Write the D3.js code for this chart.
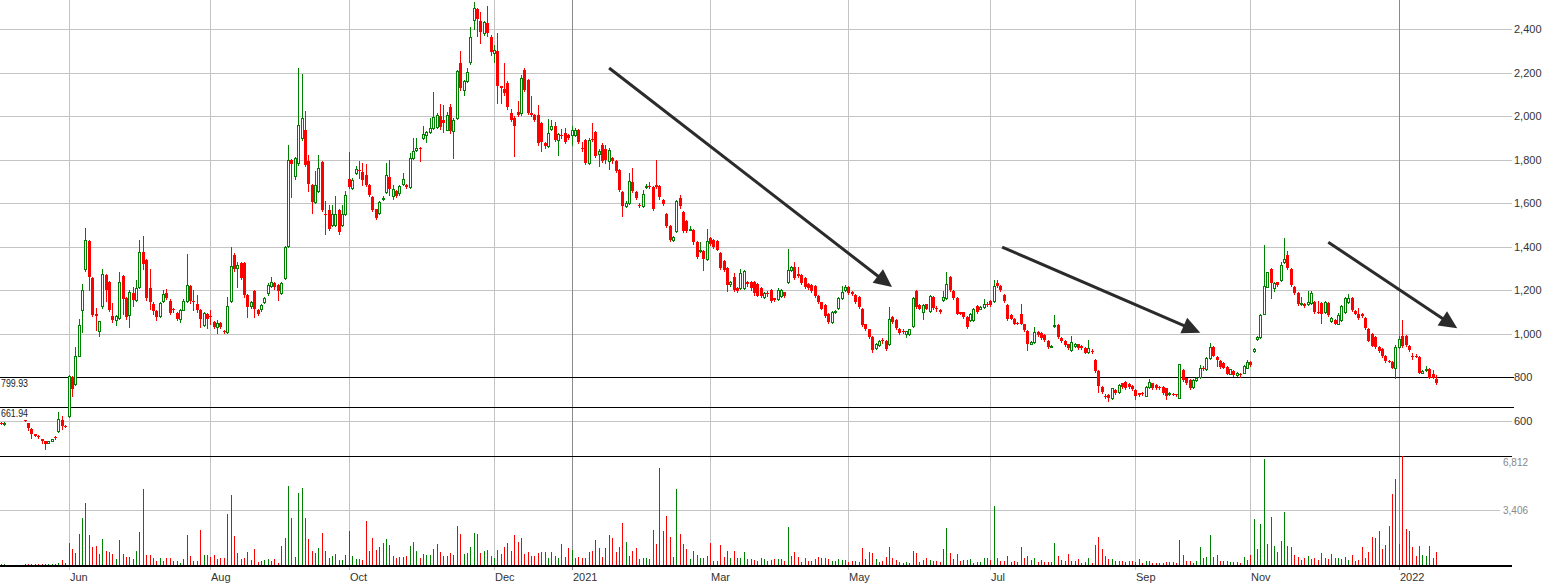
<!DOCTYPE html>
<html><head><meta charset="utf-8">
<script src="https://cdn.jsdelivr.net/npm/d3@7"></script>
<style>
html,body{margin:0;padding:0;background:#fff;overflow:hidden}
svg{display:block}
text{font-family:"Liberation Sans",Arial,sans-serif}
</style></head><body>
<svg id="chart" width="1545" height="583"></svg>
<script>
// ---- data (one entry per trading session, null = no trade) ----
const opens = [
590,585,null,null,null,null,null,602,588,562,
538,530,515,505,500,508,526,555,605,575,
620,803,770,900,1108,1300,1427,1257,1090,1013,
1126,1270,1239,1080,1064,1074,1265,1165,1085,1188,
1157,1216,1377,1339,1211,1139,1105,1080,1151,1188,
1151,1113,1096,1070,1111,1151,1219,1150,1139,1108,
1039,1091,1082,1054,1031,1049,1013,1008,1151,1362,
1301,1324,1327,1178,1128,1197,1109,1112,1148,1186,
1219,1235,1224,1189,1255,1404,1797,1725,1786,1900,
1939,1796,1686,1605,1656,1790,1550,1567,1500,1500,
1567,1500,1549,1714,1671,1740,1755,1745,1728,1686,
1628,1572,1557,1622,1651,1722,1633,1656,1648,1690,
1686,1676,1809,1844,1855,1900,1916,1930,1946,1949,
2000,1984,1939,2045,1931,1992,2247,2122,2163,2249,
2443,2492,2440,2382,2428,2366,2293,2300,2138,2126,
2154,2016,1992,2019,2013,2215,2165,2013,2005,2008,
1967,1877,1862,1942,1954,1893,1916,1924,1916,1916,
1916,1935,1852,1890,1786,1896,1927,1827,1870,1851,
1793,1808,1793,1752,1650,1589,1601,1697,1652,1594,
1589,1677,1681,1675,1686,1678,1614,1551,1494,1432,
1471,1624,1560,1517,1478,1478,1420,1380,1379,1345,
1440,1432,1425,1372,1333,1302,1228,1259,1209,1209,
1209,1236,1237,1240,1228,1209,1171,1186,1202,1163,
1160,1175,1190,1237,1295,1305,1274,1271,1256,1228,
1225,1220,1175,1144,1132,1093,1054,1098,1119,1166,
1202,1214,1194,1178,1171,1116,1043,1020,985,933,
949,971,969,954,1078,1062,1023,1013,1000,1000,
1036,1197,1132,1101,1135,1104,1171,1118,1109,1155,
1166,1263,1197,1163,1098,1098,1078,1062,1062,1128,
1116,1124,1136,1150,1150,1235,1220,1177,1131,1085,
1070,1049,1093,1043,1012,955,962,1009,1005,994,
966,943,1035,1040,981,966,951,925,945,951,
945,936,917,922,879,829,757,716,719,706,
742,734,772,777,768,761,742,726,728,716,
757,772,765,754,757,749,724,724,721,707,
833,795,787,757,787,800,845,837,888,941,
895,876,868,848,817,830,811,816,822,845,
871,919,974,985,1093,1217,1297,1209,1236,1248,
1329,1364,1298,1217,1186,1136,1136,1136,1143,1147,
1102,1143,1100,1143,1059,1065,1047,1062,1100,1147,
1163,1105,1090,1093,1074,1023,1000,985,938,930,
899,876,871,845,938,992,992,946,898,900,
895,822,833,837,817,791];
const highs = [
594,594,null,null,null,null,null,604,592,565,
540,536,518,508,508,518,532,640,622,580,
812,808,940,1070,1228,1485,1432,1262,1120,1060,
1296,1277,1244,1140,1085,1285,1272,1170,1200,1215,
1246,1430,1451,1345,1300,1145,1110,1148,1200,1205,
1158,1120,1100,1115,1160,1366,1225,1202,1178,1112,
1100,1095,1110,1058,1062,1052,1016,1170,1397,1370,
1330,1330,1332,1182,1152,1202,1114,1135,1168,1232,
1262,1240,1228,1236,1405,1870,1805,1815,2221,2195,
2023,1824,1690,1748,1821,1795,1610,1590,1590,1633,
1572,1590,1656,1835,1715,1772,1793,1786,1782,1690,
1632,1576,1612,1635,1786,1797,1683,1660,1683,1740,
1690,1829,1899,1899,1858,1955,1932,1990,2110,2015,
2058,2050,2020,2058,1990,2215,2302,2168,2223,2412,
2527,2498,2481,2440,2507,2372,2330,2385,2140,2246,
2160,2032,2000,2069,2190,2220,2170,2093,2010,2054,
1972,1880,1988,1985,1973,1925,1940,1945,1920,1955,
1945,1940,1880,1895,1900,1970,1932,1850,1875,1866,
1852,1812,1800,1756,1655,1610,1740,1762,1657,1600,
1662,1690,1700,1680,1800,1682,1618,1555,1498,1450,
1615,1640,1564,1521,1495,1482,1425,1420,1385,1482,
1445,1437,1430,1378,1338,1306,1245,1279,1214,1299,
1292,1245,1241,1244,1232,1213,1190,1195,1206,1166,
1212,1205,1194,1392,1310,1330,1305,1275,1260,1232,
1229,1224,1179,1148,1136,1097,1104,1110,1170,1218,
1225,1218,1198,1182,1175,1120,1047,1024,989,958,
970,980,973,1124,1082,1066,1027,1020,1015,1024,
1170,1201,1136,1136,1139,1180,1175,1130,1113,1196,
1285,1267,1201,1167,1102,1102,1082,1097,1120,1132,
1128,1162,1145,1154,1246,1246,1224,1181,1135,1089,
1074,1055,1139,1047,1016,966,1032,1013,1009,998,
970,950,1085,1044,985,970,955,990,958,955,
949,940,970,930,883,833,761,722,723,753,
746,768,776,781,772,765,746,730,732,760,
790,776,769,760,761,753,732,728,724,862,
837,799,791,791,800,856,850,892,960,945,
899,880,872,852,840,834,826,822,858,880,
875,934,988,1092,1406,1286,1301,1237,1240,1330,
1442,1380,1302,1221,1190,1170,1140,1197,1197,1151,
1150,1147,1150,1147,1078,1069,1094,1131,1167,1182,
1167,1109,1120,1097,1078,1027,1004,989,942,934,
903,880,875,950,990,1062,996,950,910,905,
899,834,850,841,835,810];
const lows = [
584,582,null,null,null,null,null,598,560,520,
528,522,500,470,496,505,515,550,563,570,
618,716,765,898,1008,1290,1200,1080,1019,988,
1120,1150,1105,1055,1039,1070,1093,1070,1031,1130,
1150,1210,1300,1155,1115,1090,1062,1075,1148,1160,
1090,1100,1065,1055,1108,1148,1140,1110,1100,1031,
1035,1027,1043,1025,1003,1028,1005,1003,1148,1290,
1216,1250,1170,1079,1120,1079,1085,1105,1143,1180,
1215,1208,1155,1185,1250,1398,1628,1710,1775,1890,
1770,1656,1557,1600,1650,1565,1457,1475,1495,1495,
1460,1495,1545,1670,1665,1735,1717,1686,1680,1635,
1565,1530,1552,1615,1646,1640,1620,1628,1640,1686,
1670,1670,1805,1840,1796,1895,1880,1925,1940,1945,
1940,1930,1935,1925,1809,1988,2120,2099,2158,2240,
2400,2369,2336,2375,2370,2282,2250,2060,2062,2100,
2035,1980,1819,2000,2005,2118,2010,2000,1978,1870,
1839,1855,1858,1938,1888,1821,1900,1876,1895,1866,
1910,1875,1840,1780,1782,1885,1814,1770,1788,1785,
1760,1785,1745,1655,1540,1584,1596,1650,1618,1582,
1585,1672,1672,1570,1670,1622,1594,1490,1425,1428,
1466,1580,1466,1466,1475,1415,1350,1375,1294,1338,
1410,1396,1383,1298,1290,1198,1222,1198,1194,1205,
1205,1222,1200,1180,1172,1170,1166,1176,1146,1151,
1156,1170,1171,1232,1290,1250,1260,1228,1212,1204,
1192,1170,1140,1112,1078,1050,1050,1094,1115,1162,
1198,1182,1177,1143,1120,1038,1016,981,915,929,
945,960,926,950,1050,1023,1001,1005,985,996,
1032,1120,1112,1070,1112,1100,1115,1103,1097,1151,
1162,1198,1159,1089,1089,1074,1028,1058,1058,1094,
1112,1120,1128,1130,1146,1216,1196,1146,1063,1066,
1043,1043,1043,1013,925,951,958,990,978,966,
936,940,1030,982,962,944,932,920,941,929,
929,910,913,914,825,734,730,705,690,702,
722,730,753,748,753,742,702,715,720,712,
753,745,748,748,722,700,720,718,716,703,
783,768,748,753,783,796,833,832,884,896,
850,844,841,813,813,807,807,800,818,841,
851,915,970,981,1089,1213,1163,1195,1221,1244,
1325,1298,1221,1182,1132,1132,1123,1132,1139,1096,
1096,1050,1096,1081,1055,1043,1043,1058,1096,1143,
1105,1089,1070,1077,1024,965,942,934,915,895,
872,869,841,799,934,940,946,922,885,893,
818,818,829,795,795,768];
const closes = [
587,592,null,null,null,null,null,600,565,540,
532,528,505,492,506,515,524,608,578,573,
808,747,900,1039,1203,1431,1259,1085,1083,1057,
1273,1200,1111,1062,1080,1239,1162,1077,1193,1157,
1211,1377,1320,1166,1146,1105,1077,1142,1185,1166,
1097,1111,1070,1111,1151,1223,1151,1148,1108,1070,
1096,1066,1080,1031,1050,1031,1008,1126,1311,1296,
1316,1255,1178,1124,1148,1112,1091,1132,1163,1224,
1239,1213,1198,1232,1400,1800,1781,1809,1961,1992,
1778,1689,1605,1682,1763,1569,1546,1480,1549,1549,
1468,1549,1640,1674,1709,1758,1752,1705,1686,1638,
1569,1534,1607,1625,1728,1664,1664,1633,1679,1714,
1674,1809,1839,1855,1851,1920,1928,1946,1997,2007,
1949,1969,2007,1931,1981,2209,2130,2163,2203,2363,
2496,2447,2389,2435,2382,2297,2305,2139,2131,2108,
2043,1985,1957,2005,2177,2123,2016,2005,1985,1878,
1880,1862,1924,1954,1893,1920,1908,1881,1900,1939,
1939,1880,1850,1786,1893,1890,1819,1839,1793,1801,
1847,1793,1750,1660,1586,1601,1701,1655,1624,1586,
1644,1681,1679,1574,1675,1629,1598,1494,1429,1445,
1609,1586,1471,1471,1482,1420,1353,1387,1343,1425,
1415,1401,1386,1302,1295,1225,1240,1202,1198,1279,
1287,1228,1209,1186,1176,1174,1186,1183,1150,1155,
1202,1200,1175,1295,1305,1256,1264,1233,1217,1209,
1197,1175,1144,1116,1082,1054,1098,1104,1163,1190,
1217,1186,1181,1147,1124,1042,1020,985,927,953,
966,969,930,1070,1054,1027,1005,1011,1011,1020,
1166,1124,1116,1132,1116,1175,1119,1116,1101,1171,
1228,1202,1163,1093,1093,1078,1032,1093,1116,1098,
1124,1139,1134,1134,1220,1220,1200,1150,1067,1070,
1047,1047,1047,1017,955,962,1009,994,982,970,
940,946,1040,986,966,948,936,963,955,933,
933,914,933,920,829,761,734,714,706,749,
726,765,757,752,757,746,716,719,726,757,
780,749,752,752,726,716,726,722,719,859,
787,772,752,787,795,845,837,888,938,900,
879,848,845,817,837,811,822,814,853,871,
855,930,985,1088,1220,1282,1233,1233,1225,1318,
1344,1302,1225,1186,1136,1143,1127,1147,1186,1100,
1100,1093,1147,1085,1074,1047,1085,1127,1163,1163,
1109,1093,1074,1081,1028,969,946,938,919,899,
876,873,845,938,977,946,950,926,896,897,
822,830,838,799,799,775];
const volumes = [
60,40,0,0,0,0,0,60,60,60,
60,40,50,60,40,30,60,120,300,120,
1330,980,740,1930,2950,3850,1875,1095,1150,680,
1635,880,800,680,320,1570,640,500,500,320,
860,2050,4740,620,620,380,200,380,200,380,
440,200,200,120,320,1875,560,240,200,2170,
620,620,500,620,320,380,400,3190,4380,1810,
740,320,440,800,260,980,140,200,300,320,
200,320,80,1150,1690,4920,2950,500,4500,4800,
2950,1630,860,740,1035,1990,860,440,560,680,
260,260,620,2110,560,320,320,260,2710,860,
1690,920,1100,1330,1630,1200,560,380,500,500,
560,1150,1400,860,380,680,620,620,980,1270,
800,560,560,740,620,2410,1930,680,740,1100,
1990,1930,740,860,920,560,400,920,680,1100,
1330,860,1875,1400,1690,680,800,560,560,740,
800,800,440,800,560,440,1270,500,1035,920,
440,500,440,440,800,860,1570,1035,500,1035,
1875,1690,800,1100,2590,1400,560,860,1035,320,
440,440,320,2170,1270,6050,2110,3070,1750,500,
4740,1930,1270,980,320,860,620,380,440,560,
1330,200,200,1220,500,860,380,860,380,440,
800,320,320,260,200,380,320,200,260,320,
320,340,200,2370,540,800,500,140,440,240,
200,340,500,400,440,340,200,200,320,280,
280,140,200,240,140,1035,340,800,740,340,
140,200,480,1095,400,280,140,100,140,100,
840,740,140,280,400,280,240,200,140,1000,
2290,740,340,680,200,280,280,340,120,140,
140,400,440,280,3690,440,240,200,540,140,
200,140,1095,400,540,280,400,140,280,140,
140,140,1330,520,280,200,680,240,200,340,
100,140,400,100,1235,1750,1000,520,360,320,
200,200,240,160,200,240,140,340,120,200,
240,100,120,80,120,160,160,140,100,1570,
600,200,200,120,240,1115,400,500,1830,500,
600,200,200,200,160,140,160,100,480,280,
600,2890,1000,2530,6650,1300,2990,1180,760,1470,
3300,1150,1100,600,500,280,440,520,320,440,
280,720,440,340,640,400,440,320,480,300,
600,200,300,1100,400,800,1700,1650,2100,1000,
1250,2420,4460,5360,1300,6850,2230,2130,1130,540,
1180,620,560,1180,400,760];

// axis / annotation data
const monthLabels = ["Jun","Aug","Oct","Dec","2021","Mar","May","Jul","Sep","Nov","2022"];
const monthIndex  = [20, 62, 103, 146, 169, 210, 251, 293, 336, 370, 414];
const yearLabels  = ["2021","2022"];
const priceTicks  = [600,800,1000,1200,1400,1600,1800,2000,2200,2400];
const volumeTicks = [3406, 6812];
const levelValues = [799.93, 661.94];
const arrowFromIdx   = [180.1, 296.5, 393.1];
const arrowFromPrice = [2222, 1399, 1421];
const arrowToIdx     = [263.9, 355.2, 431.3];
const arrowToPrice   = [1215, 1005, 1025];

// ---- drawing ----
const svg = d3.select("#chart");
const N = closes.length;
const RIGHT = 1512;
const x = d3.scaleLinear().domain([0, N - 1]).range([1, 1436]);
const y = d3.scaleLinear().domain([600, 2400]).range([420.8, 29.3]);
const yv = d3.scaleLinear().domain([0, 6812]).range([564.5, 456.3]);
const px = i => Math.round(x(i)) + 0.5;
const py = v => Math.round(y(v)) + 0.5;
const UP = "#008000", DOWN = "#ff0000";

const grid = svg.append("g").attr("shape-rendering", "crispEdges");
// horizontal price grid
grid.selectAll("line.hp").data(priceTicks).join("line")
  .attr("x1", 0).attr("x2", RIGHT).attr("y1", d => py(d)).attr("y2", d => py(d))
  .attr("stroke", "#c4c4c4").attr("stroke-width", 1);
// volume grid
grid.selectAll("line.hv").data([volumeTicks[0]]).join("line")
  .attr("x1", 0).attr("x2", 1500).attr("y1", d => Math.round(yv(d)) + 0.5).attr("y2", d => Math.round(yv(d)) + 0.5)
  .attr("stroke", "#c4c4c4");
// vertical month grid
grid.selectAll("line.v").data(monthIndex).join("line")
  .attr("x1", d => px(d)).attr("x2", d => px(d)).attr("y1", 0).attr("y2", 570)
  .attr("stroke", (d, i) => yearLabels.includes(monthLabels[i]) ? "#8a8a8a" : "#c4c4c4");

// level lines
grid.selectAll("line.lv").data(levelValues).join("line")
  .attr("x1", 0).attr("x2", 1514).attr("y1", d => py(d)).attr("y2", d => py(d))
  .attr("stroke", "#000");
// volume panel frame
grid.append("line").attr("x1", 0).attr("x2", RIGHT)
  .attr("y1", Math.round(yv(volumeTicks[1])) + 0.5).attr("y2", Math.round(yv(volumeTicks[1])) + 0.5)
  .attr("stroke", "#000");

// candles
const idx = d3.range(N).filter(i => closes[i] != null);
const cg = svg.append("g").attr("shape-rendering", "crispEdges");
const isUp = i => closes[i] >= opens[i];
cg.selectAll("line.wick").data(idx).join("line")
  .attr("x1", px).attr("x2", px)
  .attr("y1", i => Math.round(y(highs[i]))).attr("y2", i => Math.round(y(lows[i])) + 1)
  .attr("stroke", i => isUp(i) ? UP : DOWN);
cg.selectAll("rect.body").data(idx).join("rect")
  .attr("x", i => isUp(i) ? px(i) - 1 : px(i) - 1.5)
  .attr("width", i => isUp(i) ? 2 : 3)
  .attr("y", i => isUp(i) ? Math.round(y(closes[i])) + 0.5 : Math.round(y(opens[i])))
  .attr("height", i => Math.max(Math.abs(Math.round(y(opens[i])) - Math.round(y(closes[i]))), 1))
  .attr("fill", i => isUp(i) ? "#fff" : DOWN)
  .attr("stroke", i => isUp(i) ? UP : "none");

// volume bars
const vg = svg.append("g").attr("shape-rendering", "crispEdges");
vg.selectAll("line").data(d3.range(N).filter(i => volumes[i] > 0)).join("line")
  .attr("x1", px).attr("x2", px)
  .attr("y1", i => Math.round(yv(volumes[i]))).attr("y2", 566)
  .attr("stroke", i => closes[i] == null ? "#888" : (isUp(i) ? UP : DOWN));
// volume baseline
svg.append("rect").attr("x", 0).attr("y", 565).attr("width", RIGHT).attr("height", 2).attr("fill", "#000");

// trend arrows
const ag = svg.append("g");
arrowFromIdx.forEach((_, k) => {
  const x0 = x(arrowFromIdx[k]), y0 = y(arrowFromPrice[k]);
  const x1 = x(arrowToIdx[k]), y1 = y(arrowToPrice[k]);
  const L = Math.hypot(x1 - x0, y1 - y0), ux = (x1 - x0) / L, uy = (y1 - y0) / L;
  const hl = 18, hw = 8.5;
  const bx = x1 - ux * hl, by = y1 - uy * hl;
  ag.append("line").attr("x1", x0).attr("y1", y0).attr("x2", bx + ux * 2).attr("y2", by + uy * 2)
    .attr("stroke", "#2b2b2b").attr("stroke-width", 3);
  ag.append("path")
    .attr("d", `M${x1},${y1}L${bx - uy * hw},${by + ux * hw}L${bx + uy * hw},${by - ux * hw}Z`)
    .attr("fill", "#2b2b2b");
});

// right price labels
const fmt = d3.format(",");
svg.append("g").selectAll("text").data(priceTicks).join("text")
  .attr("x", 1514).attr("y", d => y(d) + 4)
  .attr("font-size", 11).attr("fill", "#333").text(d => fmt(d));
// volume labels
svg.append("g").selectAll("text").data(volumeTicks).join("text")
  .attr("x", 1503).attr("y", d => d === volumeTicks[1] ? yv(d) + 10 : yv(d) + 4)
  .attr("font-size", 10).attr("fill", "#888").text(d => fmt(d));
// level labels
svg.append("g").selectAll("text").data(levelValues).join("text")
  .attr("x", 1).attr("y", d => y(d) + 10)
  .attr("font-size", 10.5).attr("fill", "#222")
  .attr("textLength", 27).attr("lengthAdjust", "spacingAndGlyphs")
  .text(d => d.toFixed(2));
// month labels
svg.append("g").selectAll("text").data(monthLabels).join("text")
  .attr("x", (d, i) => px(monthIndex[i]) + 0.5).attr("y", 581)
  .attr("font-size", 11).attr("fill", "#333").text(d => d);
</script>
</body></html>
